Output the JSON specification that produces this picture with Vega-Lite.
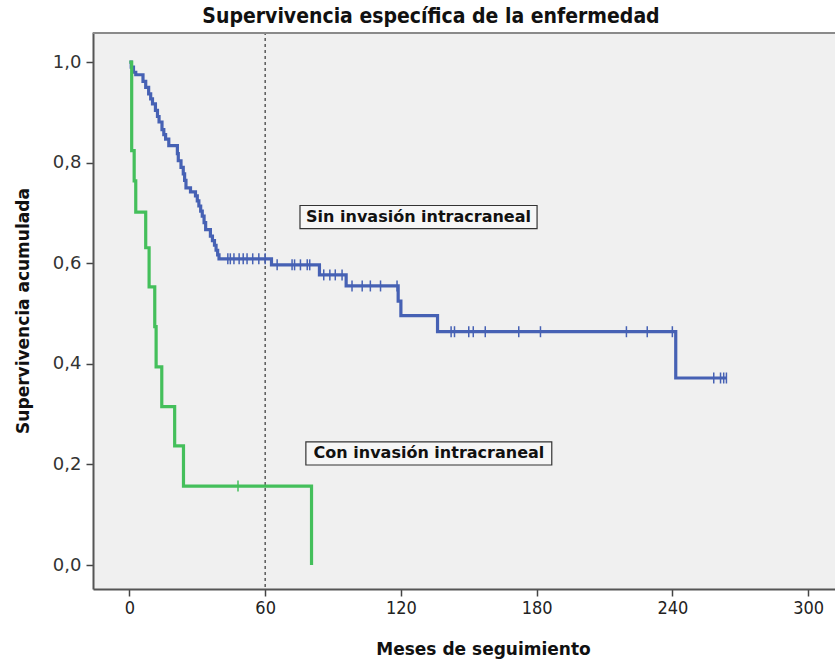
{
  "$schema": "https://vega.github.io/schema/vega-lite/v6.json",
  "autosize": {"type": "none"},
  "width": 742,
  "height": 557,
  "padding": {"left": 93, "top": 32, "right": 0, "bottom": 77},
  "background": "#ffffff",
  "view": {"fill": "#f0f0f0", "stroke": null},
  "title": {
    "text": "Supervivencia específica de la enfermedad",
    "font": "DejaVu Sans Condensed, Liberation Sans Narrow, DejaVu Sans, sans-serif",
    "fontSize": 21,
    "fontWeight": "bold",
    "color": "#111111",
    "anchor": "middle",
    "dx": -33,
    "offset": 4
  },
  "datasets": {
    "curvas": [
      {"grupo": "Sin", "t": 0, "s": 1.0},
      {"grupo": "Sin", "t": 0.8, "s": 0.99},
      {"grupo": "Sin", "t": 1.8, "s": 0.98},
      {"grupo": "Sin", "t": 2.8, "s": 0.975},
      {"grupo": "Sin", "t": 6.0, "s": 0.962},
      {"grupo": "Sin", "t": 7.2, "s": 0.95},
      {"grupo": "Sin", "t": 8.5, "s": 0.937},
      {"grupo": "Sin", "t": 9.4, "s": 0.927},
      {"grupo": "Sin", "t": 10.2, "s": 0.917},
      {"grupo": "Sin", "t": 11.5, "s": 0.904},
      {"grupo": "Sin", "t": 12.4, "s": 0.892},
      {"grupo": "Sin", "t": 13.1, "s": 0.881},
      {"grupo": "Sin", "t": 14.4, "s": 0.866},
      {"grupo": "Sin", "t": 15.2, "s": 0.856},
      {"grupo": "Sin", "t": 16.0, "s": 0.847},
      {"grupo": "Sin", "t": 17.4, "s": 0.834},
      {"grupo": "Sin", "t": 21.2, "s": 0.818},
      {"grupo": "Sin", "t": 21.6, "s": 0.804},
      {"grupo": "Sin", "t": 22.8, "s": 0.791},
      {"grupo": "Sin", "t": 23.8, "s": 0.778},
      {"grupo": "Sin", "t": 24.4, "s": 0.765},
      {"grupo": "Sin", "t": 25.0, "s": 0.75},
      {"grupo": "Sin", "t": 27.0, "s": 0.742},
      {"grupo": "Sin", "t": 29.2, "s": 0.734},
      {"grupo": "Sin", "t": 30.0, "s": 0.724},
      {"grupo": "Sin", "t": 30.7, "s": 0.714},
      {"grupo": "Sin", "t": 31.5, "s": 0.704},
      {"grupo": "Sin", "t": 32.2, "s": 0.694},
      {"grupo": "Sin", "t": 33.0, "s": 0.681},
      {"grupo": "Sin", "t": 33.7, "s": 0.667},
      {"grupo": "Sin", "t": 35.8, "s": 0.654},
      {"grupo": "Sin", "t": 36.7, "s": 0.645},
      {"grupo": "Sin", "t": 37.6, "s": 0.636},
      {"grupo": "Sin", "t": 38.3, "s": 0.626},
      {"grupo": "Sin", "t": 39.0, "s": 0.617},
      {"grupo": "Sin", "t": 39.6, "s": 0.609},
      {"grupo": "Sin", "t": 62.8, "s": 0.597},
      {"grupo": "Sin", "t": 84.0, "s": 0.577},
      {"grupo": "Sin", "t": 95.8, "s": 0.555},
      {"grupo": "Sin", "t": 118.8, "s": 0.525},
      {"grupo": "Sin", "t": 120.0, "s": 0.496},
      {"grupo": "Sin", "t": 136.2, "s": 0.464},
      {"grupo": "Sin", "t": 241.5, "s": 0.372},
      {"grupo": "Sin", "t": 264.0, "s": 0.372},
      {"grupo": "Con", "t": 0, "s": 1.0},
      {"grupo": "Con", "t": 1.0, "s": 0.824},
      {"grupo": "Con", "t": 2.1, "s": 0.764},
      {"grupo": "Con", "t": 2.8, "s": 0.702},
      {"grupo": "Con", "t": 7.2, "s": 0.631},
      {"grupo": "Con", "t": 8.7, "s": 0.553},
      {"grupo": "Con", "t": 11.2, "s": 0.474},
      {"grupo": "Con", "t": 11.8, "s": 0.394},
      {"grupo": "Con", "t": 14.3, "s": 0.315},
      {"grupo": "Con", "t": 20.0, "s": 0.237},
      {"grupo": "Con", "t": 23.9, "s": 0.157},
      {"grupo": "Con", "t": 80.5, "s": 0.0}
    ],
    "censuras": [
      {"grupo": "Sin", "t": 43.5, "s": 0.609},
      {"grupo": "Sin", "t": 44.6, "s": 0.609},
      {"grupo": "Sin", "t": 46.2, "s": 0.609},
      {"grupo": "Sin", "t": 48.5, "s": 0.609},
      {"grupo": "Sin", "t": 50.3, "s": 0.609},
      {"grupo": "Sin", "t": 52.0, "s": 0.609},
      {"grupo": "Sin", "t": 54.5, "s": 0.609},
      {"grupo": "Sin", "t": 57.2, "s": 0.609},
      {"grupo": "Sin", "t": 60.0, "s": 0.609},
      {"grupo": "Sin", "t": 65.3, "s": 0.597},
      {"grupo": "Sin", "t": 71.9, "s": 0.597},
      {"grupo": "Sin", "t": 73.0, "s": 0.597},
      {"grupo": "Sin", "t": 75.6, "s": 0.597},
      {"grupo": "Sin", "t": 78.6, "s": 0.597},
      {"grupo": "Sin", "t": 79.7, "s": 0.597},
      {"grupo": "Sin", "t": 85.9, "s": 0.577},
      {"grupo": "Sin", "t": 88.6, "s": 0.577},
      {"grupo": "Sin", "t": 91.0, "s": 0.577},
      {"grupo": "Sin", "t": 94.0, "s": 0.577},
      {"grupo": "Sin", "t": 98.4, "s": 0.555},
      {"grupo": "Sin", "t": 102.9, "s": 0.555},
      {"grupo": "Sin", "t": 106.5, "s": 0.555},
      {"grupo": "Sin", "t": 111.0, "s": 0.555},
      {"grupo": "Sin", "t": 118.3, "s": 0.555},
      {"grupo": "Sin", "t": 142.2, "s": 0.464},
      {"grupo": "Sin", "t": 143.7, "s": 0.464},
      {"grupo": "Sin", "t": 150.0, "s": 0.464},
      {"grupo": "Sin", "t": 152.0, "s": 0.464},
      {"grupo": "Sin", "t": 157.3, "s": 0.464},
      {"grupo": "Sin", "t": 172.1, "s": 0.464},
      {"grupo": "Sin", "t": 181.7, "s": 0.464},
      {"grupo": "Sin", "t": 219.7, "s": 0.464},
      {"grupo": "Sin", "t": 228.9, "s": 0.464},
      {"grupo": "Sin", "t": 240.0, "s": 0.464},
      {"grupo": "Sin", "t": 258.3, "s": 0.372},
      {"grupo": "Sin", "t": 261.3, "s": 0.372},
      {"grupo": "Sin", "t": 262.7, "s": 0.372},
      {"grupo": "Sin", "t": 263.9, "s": 0.372},
      {"grupo": "Con", "t": 48.0, "s": 0.157}
    ],
    "etiquetas": [
      {"texto": "Sin invasión intracraneal", "t": 127.8, "s": 0.692, "t1": 75.4, "t2": 180.2, "s1": 0.669, "s2": 0.715},
      {"texto": "Con invasión intracraneal", "t": 132.4, "s": 0.222, "t1": 78.0, "t2": 186.7, "s1": 0.199, "s2": 0.245}
    ]
  },
  "layer": [
    {
      "data": {"values": [{"t": 60}]},
      "mark": {"type": "rule", "color": "#333333", "strokeWidth": 1.2, "strokeDash": [3, 3]},
      "encoding": {
        "x": {
          "field": "t", "type": "quantitative",
          "scale": {"domain": [-16.1, 311.9], "nice": false, "zero": false},
          "axis": {
            "values": [0, 60, 120, 180, 240, 300],
            "title": "Meses de seguimiento",
            "titleFont": "DejaVu Sans",
            "titleFontSize": 17,
            "titleFontWeight": "bold",
            "titleColor": "#111111",
            "titlePadding": 24,
            "titleX": 390,
            "titleAnchor": "middle",
            "titleAlign": "center",
            "labelFont": "DejaVu Sans Condensed, Liberation Sans Narrow, sans-serif",
            "labelFontSize": 18,
            "labelColor": "#222222",
            "labelPadding": 3,
            "tickSize": 7,
            "tickColor": "#444444",
            "tickWidth": 1.5,
            "domainColor": "#555555",
            "domainWidth": 2,
            "grid": false
          }
        }
      }
    },
    {
      "data": {"values": [{"s": 1.058}]},
      "mark": {"type": "rule", "color": "#8a8a8a", "strokeWidth": 2},
      "encoding": {
        "y": {
          "field": "s", "type": "quantitative",
          "scale": {"domain": [-0.0476, 1.06], "nice": false, "zero": false},
          "axis": {
            "values": [0, 0.2, 0.4, 0.6, 0.8, 1.0],
            "labelExpr": "replace(format(datum.value, '.1f'), '.', ',')",
            "title": "Supervivencia acumulada",
            "titleFont": "DejaVu Sans",
            "titleFontSize": 17,
            "titleFontWeight": "bold",
            "titleColor": "#111111",
            "titlePadding": 20,
            "labelFont": "DejaVu Sans",
            "labelFontSize": 18,
            "labelColor": "#333333",
            "labelPadding": 5,
            "tickSize": 7,
            "tickColor": "#444444",
            "tickWidth": 1.5,
            "domainColor": "#555555",
            "domainWidth": 2,
            "grid": false
          }
        }
      }
    },
    {
      "data": {"name": "etiquetas"},
      "mark": {"type": "rect", "fill": "#f6f6f6", "stroke": "#333333", "strokeWidth": 1.2},
      "encoding": {
        "x": {"field": "t1", "type": "quantitative"},
        "x2": {"field": "t2"},
        "y": {"field": "s1", "type": "quantitative"},
        "y2": {"field": "s2"}
      }
    },
    {
      "data": {"name": "etiquetas"},
      "mark": {"type": "text", "font": "DejaVu Sans", "fontSize": 16, "fontWeight": "bold", "color": "#111111", "align": "center", "baseline": "middle"},
      "encoding": {
        "x": {"field": "t", "type": "quantitative"},
        "y": {"field": "s", "type": "quantitative"},
        "text": {"field": "texto"}
      }
    },
    {
      "data": {"name": "curvas"},
      "mark": {"type": "line", "interpolate": "step-after", "strokeWidth": 3.2},
      "encoding": {
        "x": {"field": "t", "type": "quantitative"},
        "y": {"field": "s", "type": "quantitative"},
        "color": {
          "field": "grupo", "type": "nominal",
          "scale": {"domain": ["Sin", "Con"], "range": ["#4661b4", "#44bf5b"]},
          "legend": null
        },
        "order": {"field": "t", "type": "quantitative"}
      }
    },
    {
      "data": {"name": "censuras"},
      "mark": {"type": "tick", "orient": "vertical", "size": 11, "thickness": 1.5, "opacity": 1},
      "encoding": {
        "x": {"field": "t", "type": "quantitative"},
        "y": {"field": "s", "type": "quantitative"},
        "color": {
          "field": "grupo", "type": "nominal",
          "scale": {"domain": ["Sin", "Con"], "range": ["#4661b4", "#44bf5b"]},
          "legend": null
        }
      }
    }
  ]
}
